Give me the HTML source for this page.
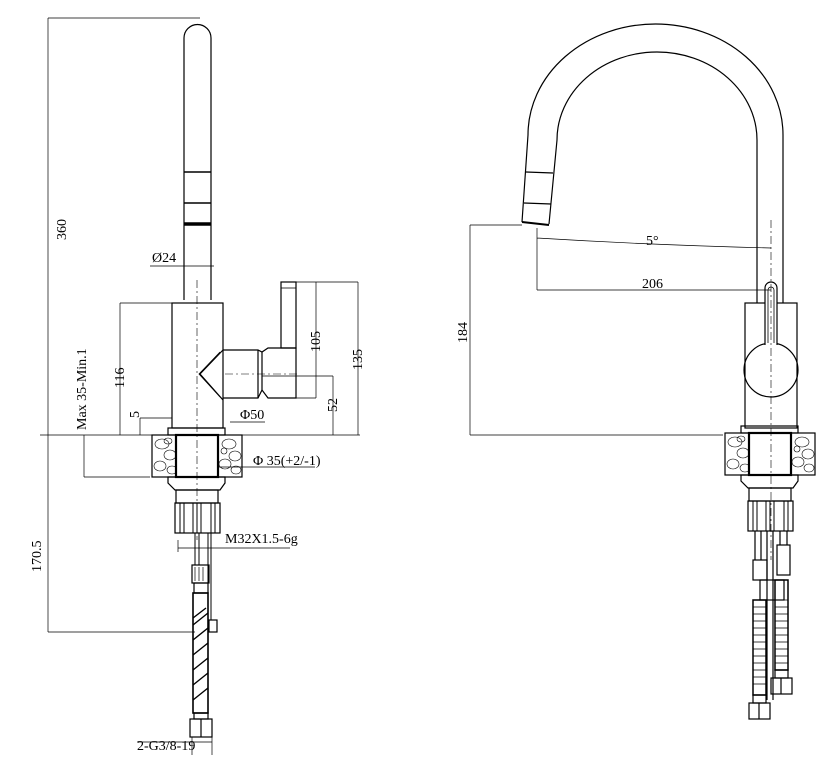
<!DOCTYPE html>
<html><head><meta charset="utf-8"><style>
html,body{margin:0;padding:0;background:#fff}
svg{display:block}
text{font-family:"Liberation Serif",serif;font-size:14px;fill:#000}
</style></head><body>
<svg width="838" height="767" viewBox="0 0 838 767" xmlns="http://www.w3.org/2000/svg">
<defs>
<g id="base" stroke="#000" fill="none">
  <rect x="168" y="428" width="57" height="7" stroke-width="1.2"/>
  <rect x="152" y="435" width="90" height="42" stroke-width="1.2"/>
  <g stroke-width="0.6">
    <ellipse cx="162" cy="444" rx="7" ry="5"/><ellipse cx="170" cy="455" rx="6" ry="5"/><ellipse cx="160" cy="466" rx="6" ry="5"/><ellipse cx="172" cy="470" rx="5" ry="4"/><ellipse cx="168" cy="441" rx="4" ry="3"/>
    <ellipse cx="229" cy="444" rx="7" ry="5"/><ellipse cx="235" cy="456" rx="6" ry="5"/><ellipse cx="225" cy="464" rx="6" ry="5"/><ellipse cx="236" cy="470" rx="5" ry="4"/><ellipse cx="224" cy="451" rx="3" ry="3"/>
  </g>
  <rect x="176" y="435" width="42" height="42" fill="#fff" stroke-width="2.2"/>
  <path d="M168 477 H225 V483 L220 490 H175 L168 483 Z" stroke-width="1.2"/>
  <rect x="176" y="490" width="42" height="13" stroke-width="1.2"/>
  <rect x="175" y="503" width="45" height="30" stroke-width="1.2"/>
  <g stroke-width="1"><path d="M180 503V533M184 503V533M193 503V533M197 503V533M201 503V533M211 503V533M215 503V533"/></g>
</g>
</defs>

<g stroke="#000" fill="none" stroke-width="1.2">
<!-- LEFT spout -->
<path d="M184 300 V38 A13.5 13.5 0 0 1 211 38 V300"/>
<path d="M184 172 H211 M184 203 H211" stroke-width="1.5"/>
<path d="M184 224 H211" stroke-width="3.5"/>
<!-- body -->
<rect x="172" y="303" width="51" height="125"/>
<path d="M223 350 L200 374 L223 400"/>
<path d="M220 352 L199 374 L220 397" stroke-width="0.8"/>
<path d="M223 350 H258 L262 352 L268 348 H296 V398 H268 L262 390 L258 398 H223" />
<path d="M258 350 V398 M262 352 L262 390"/>
<rect x="281" y="282" width="15" height="66"/>
<path d="M281 288 H296" stroke-width="0.8"/>
<!-- base -->
<use href="#base"/>
<!-- pipes/hoses -->
<path d="M195 533 V565 M199 533 V565 M208 533 V620 M211 533 V620" stroke-width="1"/>
<rect x="192" y="565" width="17" height="18"/>
<path d="M195 567 V581 M199 567 V581 M203 567 V581" stroke-width="0.7"/>
<rect x="194" y="583" width="14" height="10"/>
<rect x="193" y="593" width="15" height="120" stroke-width="1.6"/>
<path d="M193 625 L208 613 M193 640 L208 628 M193 655 L208 643 M193 670 L208 658 M193 685 L208 673 M193 700 L208 688 M193 618 L206 608" stroke-width="1.4"/>
<rect x="209" y="620" width="8" height="12"/>
<rect x="194" y="713" width="14" height="6"/>
<rect x="190" y="719" width="22" height="18"/>
<path d="M201 719 V737"/>
</g>

<!-- LEFT dims -->
<g stroke="#000" fill="none" stroke-width="0.7">
<path d="M48 18 H200 M48 18 V632 M48 632 H195"/>
<path d="M40 435 H360"/>
<path d="M150 266 H214 M184 262 V272 M211 262 V272"/>
<path d="M120 303 H172 M120 303 V435"/>
<path d="M84 435 V477 M84 477 H150"/>
<path d="M140 418 V435 M140 418 H172"/>
<path d="M230 422 H265"/>
<path d="M296 282 H358 M316 282 V398 M296 398 H316 M358 282 V435"/>
<path d="M262 376 H333 M333 376 V435"/>
<path d="M218 467 H315"/>
<path d="M178 548 H290 M178 540 V552"/>
<path d="M137 742 H212 M192 737 V755 M212 737 V755"/>
</g>
<g stroke="#000" stroke-width="0.6" stroke-dasharray="8 3 2 3"><path d="M197 280 V540"/><path d="M225 374 H300"/></g>

<text x="152" y="262">Ø24</text>
<text x="240" y="419">Φ50</text>
<text x="253" y="465">Φ 35(+2/-1)</text>
<text x="225" y="543">M32X1.5-6g</text>
<text x="137" y="750">2-G3/8-19</text>
<text transform="translate(66,240) rotate(-90)">360</text>
<text transform="translate(41,572) rotate(-90)">170.5</text>
<text transform="translate(124,388) rotate(-90)">116</text>
<text transform="translate(86,430) rotate(-90)">Max 35-Min.1</text>
<text transform="translate(139,418) rotate(-90)">5</text>
<text transform="translate(320,352) rotate(-90)">105</text>
<text transform="translate(362,370) rotate(-90)">135</text>
<text transform="translate(337,412) rotate(-90)">52</text>

<!-- RIGHT faucet -->
<g stroke="#000" fill="none" stroke-width="1.2">
<path d="M522 222 L528 135 A127.5 111 0 0 1 783 135 V303"/>
<path d="M549 224 L557 140 A100 88 0 0 1 757 140 V303"/>
<path d="M526 172 L553 173 M524 203 L551 204"/>
<path d="M522 222 L549 225" stroke-width="2"/>
<rect x="745" y="303" width="52" height="125"/>
<circle cx="771" cy="370" r="27"/>
<path d="M765 345 V288 A6 6 0 0 1 777 288 V345" fill="#fff"/>
<path d="M768 343 V290 A3 3 0 0 1 774 290 V343" stroke-width="0.8"/>
<use href="#base" transform="translate(573,-2)"/>
<path d="M755 531 V560 M761 531 V560 M767 531 V700 M773 531 V700 M780 531 V545 M787 531 V545"/>
<rect x="753" y="560" width="14" height="20"/>
<rect x="777" y="545" width="13" height="30"/>
<rect x="760" y="580" width="24" height="20"/>
<rect x="753" y="600" width="13" height="95" stroke-width="1.5"/>
<rect x="775" y="580" width="13" height="90" stroke-width="1.5"/>
<path d="M753 607h13M753 614h13M753 621h13M753 628h13M753 635h13M753 642h13M753 649h13M753 656h13M753 663h13M753 670h13M753 677h13M753 684h13M775 600h13M775 607h13M775 614h13M775 621h13M775 628h13M775 635h13M775 642h13M775 649h13M775 656h13M775 663h13" stroke-width="0.8"/>
<rect x="775" y="670" width="13" height="8"/>
<rect x="771" y="678" width="21" height="16"/><path d="M781 678 V694"/>
<rect x="753" y="695" width="13" height="8"/>
<rect x="749" y="703" width="21" height="16"/><path d="M759 703 V719"/>
</g>
<g stroke="#000" fill="none" stroke-width="0.7">
<path d="M470 225 H522 M470 225 V435 M470 435 H723"/>
<path d="M537 228 V290 M537 238 Q650 245 771 248 M537 290 H771"/>
</g>
<g stroke="#000" stroke-width="0.6" stroke-dasharray="8 3 2 3"><path d="M771 220 V560"/></g>
<text x="646" y="245">5°</text>
<text x="642" y="288">206</text>
<text transform="translate(467,343) rotate(-90)">184</text>
</svg>
</body></html>
